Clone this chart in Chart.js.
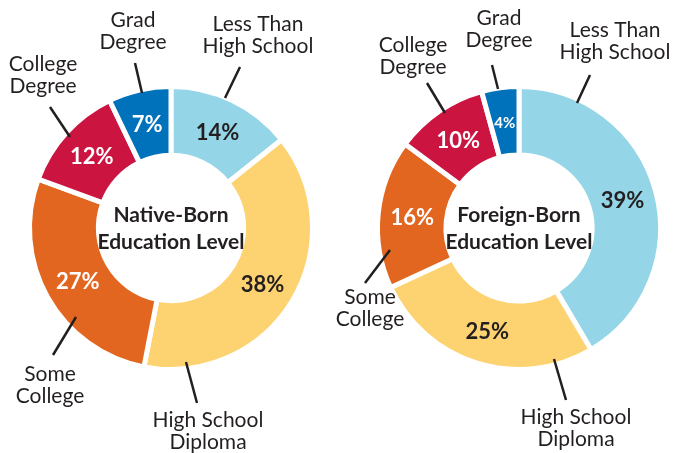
<!DOCTYPE html>
<html>
<head>
<meta charset="utf-8">
<script src="https://cdn.jsdelivr.net/npm/chart.js@4.4.1/dist/chart.umd.min.js"></script>
<style>
  html, body { margin: 0; padding: 0; background: #fff; }
  #wrap { position: relative; width: 689px; height: 453px; overflow: hidden; }
  #wrap canvas { position: absolute; top: 0; left: 0; }
</style>
</head>
<body>
<div id="wrap">
  <canvas id="nativeChart" width="689" height="453"></canvas>
  <canvas id="foreignChart" width="689" height="453"></canvas>
</div>
<script>
// data
const categories = ['Less Than\nHigh School', 'High School\nDiploma', 'Some\nCollege', 'College\nDegree', 'Grad\nDegree']
const nativeBorn = [14, 38, 27, 12, 7]
const foreignBorn = [39, 25, 16, 10, 4]
const nativeTitle = ['Native-Born', 'Education Level']
const foreignTitle = ['Foreign-Born', 'Education Level']

// styles
const sliceColors = ['#95d5e8', '#fdd372', '#e2661f', '#cc1440', '#0072bb']
const valueColors = ['#231f20', '#231f20', '#ffffff', '#ffffff', '#ffffff']
const ink = '#231f20'
const fontFamily = 'Lato, "Noto Sans", sans-serif'

// callout layout, offsets from the doughnut centre: leader start, leader end, label centre
const nativeCallouts = [
  [[54, -130], [69, -161], [87, -193]],
  [[15, 134], [26, 175], [37, 203]],
  [[-95, 89], [-118, 127], [-121, 157]],
  [[-101, -91], [-121, -121], [-128, -153]],
  [[-29, -135], [-36, -165], [-38, -197]]
]
const foreignCallouts = [
  [[58, -125], [71, -153], [96, -187]],
  [[35, 131], [47, 172], [57, 200]],
  [[-129, 22], [-154, 55], [-149, 80]],
  [[-74, -115], [-92, -145], [-106, -172]],
  [[-21, -139], [-27, -163], [-20, -199]]
]

const donutLabels = {
  id: 'donutLabels',
  afterDatasetsDraw (chart, args, opts) {
    const { ctx } = chart
    const meta = chart.getDatasetMeta(0)
    const values = chart.data.datasets[0].data
    const cx = meta.data[0].x
    const cy = meta.data[0].y

    ctx.save()
    ctx.textAlign = 'center'
    ctx.textBaseline = 'middle'

    // percentages inside the ring
    meta.data.forEach((arc, i) => {
      const p = arc.getCenterPoint()
      const size = values[i] < 5 ? 15 : 22
      ctx.font = `bold ${size}px ${fontFamily}`
      ctx.fillStyle = valueColors[i]
      ctx.fillText(values[i] + '%', p.x, p.y + 1)
    })

    // title in the hole
    ctx.font = `bold 21px ${fontFamily}`
    ctx.fillStyle = ink
    opts.title.forEach((line, i) => {
      ctx.fillText(line, cx, cy - 13 + i * 27)
    })

    // leader lines and category names
    ctx.strokeStyle = ink
    ctx.lineWidth = 2.5
    ctx.font = `21px ${fontFamily}`
    opts.callouts.forEach(([a, b, t], i) => {
      ctx.beginPath()
      ctx.moveTo(cx + a[0], cy + a[1])
      ctx.lineTo(cx + b[0], cy + b[1])
      ctx.stroke()
      const lines = chart.data.labels[i].split('\n')
      lines.forEach((line, j) => {
        ctx.fillText(line, cx + t[0], cy + t[1] + (j - (lines.length - 1) / 2) * 22)
      })
    })
    ctx.restore()
  }
}

const makeDonut = (id, values, title, callouts, padding) => {
  const ctx = document.getElementById(id).getContext('2d')
  return new Chart(ctx, {
    type: 'doughnut',
    data: {
      labels: categories,
      datasets: [
        {
          data: values,
          backgroundColor: sliceColors,
          borderColor: '#ffffff',
          borderWidth: 5,
          hoverOffset: 0
        }
      ]
    },
    options: {
      responsive: false,
      animation: false,
      radius: 141.5,
      cutout: 86.5,
      layout: { padding },
      plugins: {
        legend: { display: false },
        tooltip: { enabled: false },
        donutLabels: { title, callouts }
      }
    },
    plugins: [donutLabels]
  })
}

makeDonut('nativeChart', nativeBorn, nativeTitle, nativeCallouts, { left: 0, right: 347, top: 3, bottom: 0 })
makeDonut('foreignChart', foreignBorn, foreignTitle, foreignCallouts, { left: 349, right: 0, top: 3, bottom: 0 })
</script>
</body>
</html>
